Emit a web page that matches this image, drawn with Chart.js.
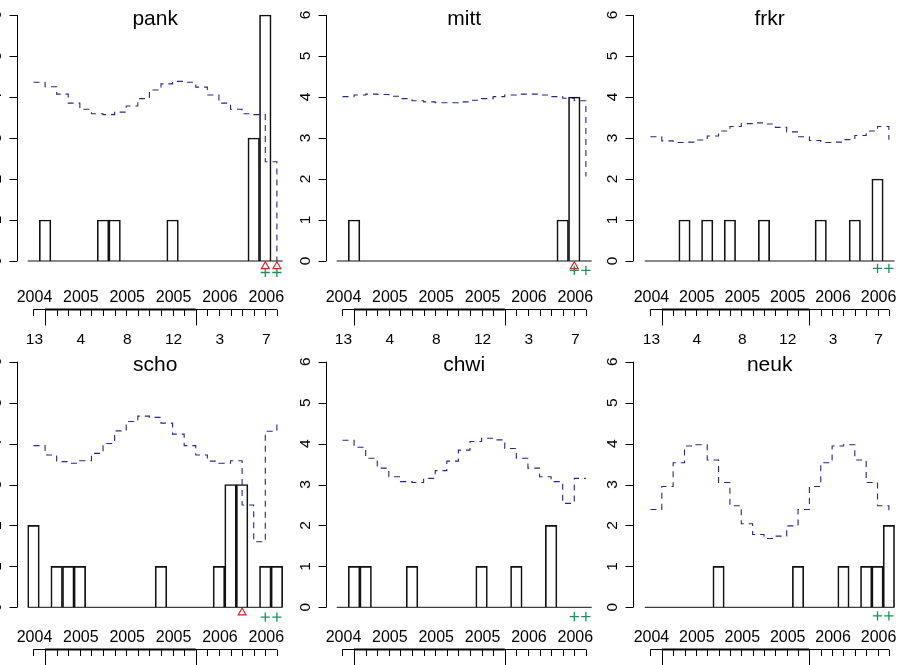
<!DOCTYPE html>
<html>
<head>
<meta charset="utf-8">
<script src="https://cdn.jsdelivr.net/npm/chart.js@4.4.0/dist/chart.umd.min.js"></script>
<style>
  body { margin: 0; background: #fff; }
  #wrap { position: relative; width: 905px; height: 665px; overflow: hidden; }
  #wrap canvas { position: absolute; left: 0; top: 0; }
</style>
</head>
<body>
<div id="wrap">
  <canvas id="pank" width="905" height="665"></canvas>
  <canvas id="mitt" width="905" height="665"></canvas>
  <canvas id="frkr" width="905" height="665"></canvas>
  <canvas id="scho" width="905" height="665"></canvas>
  <canvas id="chwi" width="905" height="665"></canvas>
  <canvas id="neuk" width="905" height="665"></canvas>
</div>
<script>
// 4-weekly periods: 2004/13, 2005/1..13, 2006/1..8  (22 time points)
var yearLabels   = ['2004', '2005', '2005', '2005', '2006', '2006'];
var periodLabels = ['13', '4', '8', '12', '3', '7'];
var labelIdx     = [0, 4, 8, 12, 16, 20];
var majorIdx     = [1, 14];          // start of 2005 and 2006
var yTicks       = [0, 1, 2, 3, 4, 5, 6];

// observed counts
var pankObs = [0,1,0,0,0,0,1,1,0,0,0,0,1,0,0,0,0,0,0,3,6,0];
var mittObs = [0,1,0,0,0,0,0,0,0,0,0,0,0,0,0,0,0,0,0,1,4,0];
var frkrObs = [0,0,0,1,0,1,0,1,0,0,1,0,0,0,0,1,0,0,1,0,2,0];
var schoObs = [2,0,1,1,1,0,0,0,0,0,0,1,0,0,0,0,1,3,3,0,1,1];
var chwiObs = [0,1,1,0,0,0,1,0,0,0,0,0,1,0,0,1,0,0,2,0,0,0];
var neukObs = [0,0,0,0,0,0,1,0,0,0,0,0,0,1,0,0,0,1,0,1,1,2];

// upper bounds (dashed step line)
var pankBound = [4.36,4.25,4.07,3.85,3.70,3.59,3.57,3.63,3.78,3.96,4.17,4.32,4.38,4.36,4.24,4.05,3.85,3.70,3.59,3.57,2.42,0];
var mittBound = [4.01,4.05,4.07,4.06,4.02,3.96,3.91,3.88,3.86,3.86,3.88,3.92,3.96,4.01,4.05,4.07,4.07,4.05,4.01,3.97,3.91,2.06];
var frkrBound = [3.03,2.93,2.89,2.90,2.95,3.05,3.17,3.28,3.35,3.37,3.34,3.26,3.15,3.03,2.94,2.89,2.90,2.96,3.06,3.17,3.28,2.96];
var schoBound = [3.95,3.72,3.56,3.52,3.58,3.76,4.00,4.31,4.54,4.67,4.64,4.50,4.23,3.95,3.72,3.57,3.52,3.58,2.50,1.60,4.30,4.56];
var chwiBound = [4.08,3.91,3.64,3.40,3.19,3.07,3.05,3.15,3.34,3.57,3.84,4.05,4.13,4.09,3.88,3.64,3.40,3.19,3.07,2.54,3.15,3.15];
var neukBound = [2.39,2.95,3.53,3.94,3.97,3.60,3.05,2.48,2.04,1.78,1.68,1.74,1.99,2.39,2.95,3.53,3.94,3.97,3.60,3.05,2.48,2.25];

// alarms (triangles) and outbreaks (crosses), as time indices
var pankAlarm = [20, 21];  var pankOutbreak = [20, 21];
var mittAlarm = [20];      var mittOutbreak = [20, 21];
var frkrAlarm = [];        var frkrOutbreak = [20, 21];
var schoAlarm = [18];      var schoOutbreak = [20, 21];
var chwiAlarm = [];        var chwiOutbreak = [20, 21];
var neukAlarm = [];        var neukOutbreak = [20, 21];

var alarmY = -0.13;
var outbreakY = { pank: -0.28, mitt: -0.23, frkr: -0.18, scho: -0.24, chwi: -0.23, neuk: -0.21 };

// layout (pixels)
var colAxisX   = [17.3, 326, 633.3];
var colBarLeft = [27.7, 336.7, 645];
var unitPx     = 11.59;
var rowTop     = [15, 361.7];
var rowBottom  = [261, 607.3];
var titleBase  = [25, 370.5];
var yearBase   = [301.5, 642];
var tickLineY  = [309.5, 649.5];
var periodBase = [343.5, 684];
var yMin = -0.5;   // room below zero for the alarm / outbreak symbols

var FONT = '"Liberation Sans", Arial, Helvetica, sans-serif';

var rAxes = {
  id: 'rAxes',
  afterDraw: function(chart, args, o) {
    var ctx = chart.ctx, x = chart.scales.x, y = chart.scales.y;
    ctx.save();
    ctx.strokeStyle = '#000';
    ctx.fillStyle = '#000';
    ctx.lineWidth = 1;

    // left axis 0..6
    var ax = Math.round(x.left) + 0.5;
    ctx.beginPath();
    ctx.moveTo(ax, y.getPixelForValue(0));
    ctx.lineTo(ax, y.getPixelForValue(6));
    yTicks.forEach(function(t) {
      var py = Math.round(y.getPixelForValue(t)) + 0.5;
      ctx.moveTo(ax, py);
      ctx.lineTo(ax - 8, py);
    });
    ctx.stroke();
    ctx.font = '15.5px ' + FONT;
    ctx.textAlign = 'center';
    ctx.textBaseline = 'middle';
    yTicks.forEach(function(t) {
      ctx.save();
      ctx.translate(ax - 21, y.getPixelForValue(t));
      ctx.rotate(-Math.PI / 2);
      ctx.fillText(String(t), 0, 0);
      ctx.restore();
    });

    // year labels
    ctx.textBaseline = 'alphabetic';
    ctx.font = '16px ' + FONT;
    labelIdx.forEach(function(i, k) {
      ctx.fillText(yearLabels[k], x.getPixelForValue(i) + 1, o.yearBase);
    });

    // period tick axis
    var ty = o.tickY;
    ctx.beginPath();
    ctx.moveTo(x.getPixelForValue(0), ty);
    ctx.lineTo(x.getPixelForValue(21), ty);
    for (var i = 0; i < 22; i++) {
      var px = Math.round(x.getPixelForValue(i)) + 0.5;
      ctx.moveTo(px, ty);
      ctx.lineTo(px, ty + 6.5);
    }
    ctx.stroke();
    ctx.beginPath();
    ctx.lineWidth = 1.8;
    ctx.moveTo(x.getPixelForValue(majorIdx[0]), ty);
    ctx.lineTo(x.getPixelForValue(majorIdx[1]), ty);
    ctx.stroke();
    ctx.lineWidth = 1;
    ctx.beginPath();
    majorIdx.forEach(function(i) {
      var px = Math.round(x.getPixelForValue(i)) + 0.5;
      ctx.moveTo(px, ty);
      ctx.lineTo(px, ty + 16);
    });
    ctx.stroke();
    ctx.font = '15.5px ' + FONT;
    labelIdx.forEach(function(i, k) {
      ctx.fillText(periodLabels[k], x.getPixelForValue(i) + 1, o.periodBase);
    });

    // title
    ctx.font = '21px ' + FONT;
    ctx.fillText(o.title, x.getPixelForValue(10.5), o.titleBase);
    ctx.restore();
  }
};

function pts(arr) {
  return arr.map(function(v, i) { return { x: i, y: v }; });
}

function makePanel(name, obs, bound, alarm, outbreak, col, row) {
  var axisX = colAxisX[col];
  var xMin = -0.5 - (colBarLeft[col] - axisX) / unitPx;
  var xMax = 21.9;
  var right = axisX + (xMax - xMin) * unitPx;
  var unitY = (rowBottom[row] - rowTop[row]) / 6;
  var bottom = rowBottom[row] - yMin * unitY;
  var ctx = document.getElementById(name).getContext('2d');
  return new Chart(ctx, {
    type: 'bar',
    data: {
      datasets: [
        {
          type: 'bar',
          data: pts(obs),
          borderColor: '#111',
          borderWidth: 1,
          backgroundColor: 'rgba(0,0,0,0)',
          barPercentage: 1,
          categoryPercentage: 1,
          borderSkipped: 'start',
          clip: false
        },
        {
          type: 'line',
          data: [{ x: -0.5, y: 0 }, { x: 21.5, y: 0 }],
          borderColor: '#111',
          borderWidth: 1,
          pointRadius: 0,
          clip: false
        },
        {
          type: 'line',
          data: pts(bound),
          stepped: 'before',
          borderColor: 'rgb(38,38,140)',
          borderWidth: 1.1,
          borderDash: [6, 5],
          pointRadius: 0,
          clip: false
        },
        {
          type: 'line',
          data: alarm.map(function(i) { return { x: i, y: alarmY }; }),
          showLine: false,
          pointStyle: 'triangle',
          pointRadius: 4.6,
          pointBorderWidth: 1.1,
          pointBorderColor: '#e8141c',
          pointBackgroundColor: 'rgba(0,0,0,0)',
          clip: false
        },
        {
          type: 'line',
          data: outbreak.map(function(i) { return { x: i, y: outbreakY[name] }; }),
          showLine: false,
          pointStyle: 'cross',
          pointRadius: 4.6,
          pointBorderWidth: 1.3,
          pointBorderColor: '#13955a',
          clip: false
        }
      ]
    },
    options: {
      responsive: false,
      animation: false,
      events: [],
      layout: {
        padding: { left: axisX, right: 905 - right, top: rowTop[row], bottom: 665 - bottom }
      },
      scales: {
        x: { type: 'linear', min: xMin, max: xMax, offset: false, display: false },
        y: { type: 'linear', min: yMin, max: 6, display: false }
      },
      plugins: {
        legend: { display: false },
        tooltip: { enabled: false },
        rAxes: {
          title: name,
          titleBase: titleBase[row],
          yearBase: yearBase[row],
          tickY: tickLineY[row],
          periodBase: periodBase[row]
        }
      }
    },
    plugins: [rAxes]
  });
}

makePanel('pank', pankObs, pankBound, pankAlarm, pankOutbreak, 0, 0);
makePanel('mitt', mittObs, mittBound, mittAlarm, mittOutbreak, 1, 0);
makePanel('frkr', frkrObs, frkrBound, frkrAlarm, frkrOutbreak, 2, 0);
makePanel('scho', schoObs, schoBound, schoAlarm, schoOutbreak, 0, 1);
makePanel('chwi', chwiObs, chwiBound, chwiAlarm, chwiOutbreak, 1, 1);
makePanel('neuk', neukObs, neukBound, neukAlarm, neukOutbreak, 2, 1);
</script>
</body>
</html>
